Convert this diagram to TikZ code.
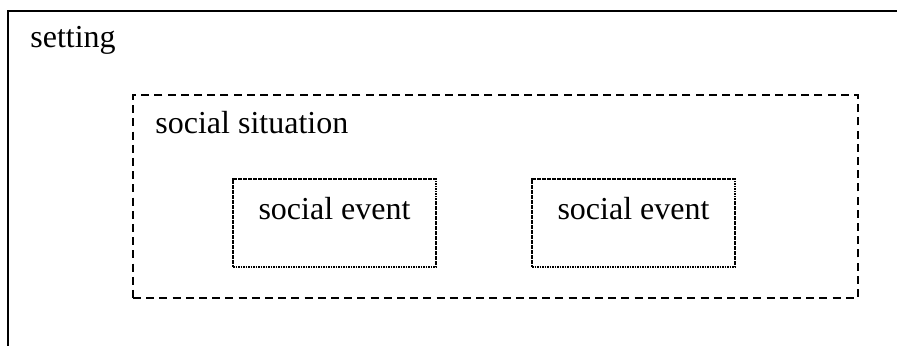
\documentclass[tikz,border=0pt]{standalone}
\usepackage{fontspec}
\setmainfont{Liberation Serif}
\usetikzlibrary{positioning}
\tikzset{
  lbl/.style={inner sep=0pt, anchor=base west, font=\fontsize{16}{19}\selectfont},
  situation/.style={rectangle, draw, line width=1.1pt, dash pattern=on 4pt off 2.6pt,
                    minimum width=362.5pt, minimum height=101.5pt, inner sep=0pt},
  event/.style={rectangle, draw, line width=1.1pt, dash pattern=on 0.8pt off 0.45pt,
                minimum width=101.5pt, minimum height=44pt, inner sep=0pt,
                text height=8pt, text depth=11pt,
                font=\fontsize{16}{19}\selectfont},
}
\begin{document}
\begin{tikzpicture}[x=0.5pt, y=-0.5pt]
\useasboundingbox (0,0) rectangle (897,346);
% Rahmen des Settings (nur oben und links sichtbar)
\coordinate (setNW) at (8,11);
\coordinate (setNE) at (897,11);
\coordinate (setSW) at (8,346);
\draw[line width=1.1pt] (setNE) -- (setNW) -- (setSW);
\node[lbl] (settxt) at (30,48) {setting};

% Soziale Situation
\node[situation] (sit) at (495.5,196.5) {};
\node[lbl] (sittxt) at (155,134) {social situation};

% Soziale Ereignisse
\node[event] (ev1) at (334.5,223) {social event};
\node[event] (ev2) at (633.5,223) {social event};

\end{tikzpicture}
\end{document}
